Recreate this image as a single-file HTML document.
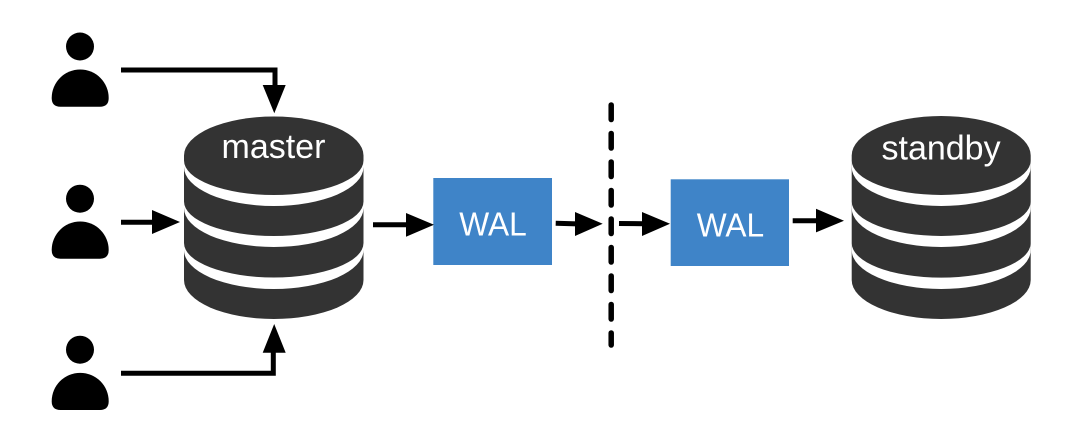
<!DOCTYPE html>
<html>
<head>
<meta charset="utf-8">
<style>
html,body{margin:0;padding:0;background:#fff;width:1078px;height:444px;overflow:hidden}
svg{display:block}
text{font-family:"Liberation Sans",sans-serif;fill:#fff}
</style>
</head>
<body>
<svg width="1078" height="444" viewBox="0 0 1078 444" xmlns="http://www.w3.org/2000/svg">
  <rect width="1078" height="444" fill="#fff"/>
  <defs>
    <path id="body" d="M51.7,98 A28.5,28.5 0 0 1 108.7,98 Q108.7,106.7 100,106.7 L60.4,106.7 Q51.7,106.7 51.7,98 Z" fill="#000"/>
  </defs>

  <!-- users -->
  <circle cx="80" cy="46.5" r="14" fill="#000"/>
  <use href="#body"/>
  <circle cx="80" cy="198.7" r="14" fill="#000"/>
  <use href="#body" y="152"/>
  <circle cx="80" cy="349.7" r="14" fill="#000"/>
  <use href="#body" y="303.3"/>

  <!-- master cylinder -->
  <path d="M184,155.5 A89.75,39 0 0 1 363.5,155.5 L363.5,280 A89.75,39 0 0 1 184,280 Z" fill="#333"/>
  <g fill="#fff">
    <path d="M184,160.5 A89.75,34.5 0 0 0 363.5,160.5 L363.5,167 A89.75,39 0 0 1 184,167 Z"/>
    <path d="M184,201.5 A89.75,34.5 0 0 0 363.5,201.5 L363.5,208 A89.75,39 0 0 1 184,208 Z"/>
    <path d="M184,243 A89.75,34.5 0 0 0 363.5,243 L363.5,250 A89.75,39 0 0 1 184,250 Z"/>
  </g>
  <text x="221.5" y="158" font-size="34">master</text>

  <!-- standby cylinder -->
  <path d="M851.7,155.5 A89.5,39.5 0 0 1 1030.7,155.5 L1030.7,280 A89.5,39 0 0 1 851.7,280 Z" fill="#333"/>
  <g fill="#fff">
    <path d="M851.7,160.5 A89.5,34.5 0 0 0 1030.7,160.5 L1030.7,167 A89.5,39 0 0 1 851.7,167 Z"/>
    <path d="M851.7,201.5 A89.5,34.5 0 0 0 1030.7,201.5 L1030.7,208 A89.5,39 0 0 1 851.7,208 Z"/>
    <path d="M851.7,243.2 A89.5,34.5 0 0 0 1030.7,243.2 L1030.7,250 A89.5,39 0 0 1 851.7,250 Z"/>
  </g>
  <text x="881.5" y="159.3" font-size="34">standby</text>

  <!-- WAL boxes -->
  <rect x="433.3" y="178" width="118.7" height="87" fill="#3f84c8"/>
  <text x="459.3" y="235.7" font-size="33" textLength="67.5" lengthAdjust="spacingAndGlyphs">WAL</text>
  <rect x="670.7" y="179.3" width="118.3" height="86.7" fill="#3f84c8"/>
  <text x="696.7" y="236.5" font-size="33" textLength="67.5" lengthAdjust="spacingAndGlyphs">WAL</text>

  <!-- dashed divider -->
  <path d="M611.2,105 L611.2,345" stroke="#000" stroke-width="5.5" stroke-linecap="round" stroke-dasharray="14.5 14" fill="none"/>

  <!-- connectors -->
  <g fill="none" stroke="#000" stroke-width="5">
    <path d="M121,70 L275,70 L275,87"/>
    <path d="M121,222.3 L154,222.3"/>
    <path d="M121,373.3 L273.3,373.3 L273.3,351"/>
    <path d="M373,224.7 L408,224.7"/>
    <path d="M555.7,223.3 L577,223.9"/>
    <path d="M619,223.5 L644,223.7"/>
    <path d="M792.7,220.8 L818,220.8"/>
  </g>
  <g fill="#000">
    <polygon points="262.7,85 285.7,85 274.3,113.3"/>
    <polygon points="152,210 180,222 152,234"/>
    <polygon points="262.7,352.7 285.7,352.7 274.2,324"/>
    <polygon points="406,213 434,224.7 406,236.7"/>
    <polygon points="575,212 602.7,223.7 575,236"/>
    <polygon points="642,212 670,223.7 642,236"/>
    <polygon points="816,208.7 844,220.7 816,232.4"/>
  </g>
</svg>
</body>
</html>
